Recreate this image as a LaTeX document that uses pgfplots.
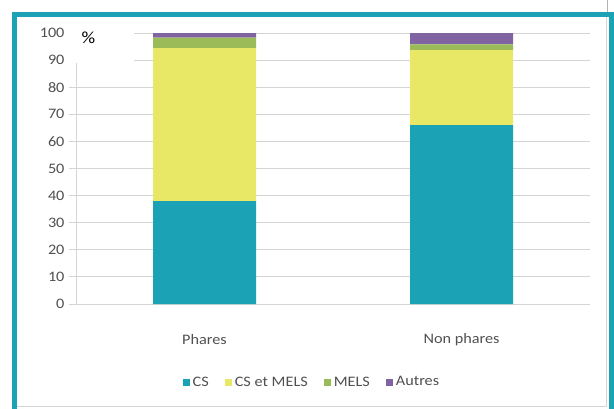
\documentclass[border=0pt]{standalone}
\usepackage{fontspec}
\setmainfont{Carlito}[FakeStretch=1.12]
\usepackage{pgfplots}
\pgfplotsset{compat=1.18}
\definecolor{csteal}{HTML}{1BA3B5}
\definecolor{csmels}{HTML}{E8E866}
\definecolor{mels}{HTML}{9BBB59}
\definecolor{autres}{HTML}{8064A2}
\definecolor{gridgray}{HTML}{D4D4D4}
\definecolor{txtgray}{HTML}{505050}

\begin{document}
\begin{tikzpicture}
\useasboundingbox (0pt,0pt) rectangle (614pt,408pt);
% outer frame
\draw[gridgray, line width=1pt] (17pt,2pt) -- (606pt,2pt) -- (606pt,391pt);
\draw[gray!60, line width=0.8pt] (607pt,408pt) -- (607pt,394pt);
\draw[csteal, line width=5pt] (14.5pt,-5pt) -- (14.5pt,393.5pt) -- (611.5pt,393.5pt) -- (611.5pt,-5pt);

\begin{axis}[
  at={(76pt,104pt)}, anchor=south west,
  scale only axis, width=514pt, height=271pt,
  ybar stacked, bar width=103pt,
  xmin=-0.5, xmax=1.5, ymin=0, ymax=100,
  xtick={0,1}, xticklabels={Phares, Non phares},
  xtick style={draw=none},
  extra x ticks={-0.5,0.5,1.5}, extra x tick labels={},
  extra x tick style={tick align=outside, major tick length=5pt,
    tick style={draw=gridgray, line width=1pt}, grid=none},
  ytick={0,10,...,100},
  tick align=outside, major tick length=7pt,
  ytick style={draw=gridgray, line width=1pt},
  ymajorgrids, grid style={gridgray, line width=1pt},
  axis x line*=bottom, axis y line*=left,
  axis line style={gridgray, line width=1pt},
  /pgf/number format/assume math mode=true,
  ticklabel style={font=\fontsize{14.5}{16}\selectfont, text=txtgray},
  yticklabel style={xshift=-1pt},
  xticklabel style={anchor=center, yshift=-29pt},
  legend style={at={(0.459,-0.288)}, anchor=center, draw=none,
    font=\fontsize{14.5}{16}\selectfont, text=txtgray,
    /tikz/every odd column/.append style={column sep=1pt},
    /tikz/every even column/.append style={column sep=14pt}},
  legend columns=4,
  legend image code/.code={\fill[#1] (0pt,-3.5pt) rectangle (7pt,3.5pt);},
]
\addplot[fill=csteal, draw=none] coordinates {(0,38.0) (1,66.0)};
\addplot[fill=csmels, draw=none] coordinates {(0,56.4) (1,27.7)};
\addplot[fill=mels, draw=none] coordinates {(0,3.9) (1,2.1)};
\addplot[fill=autres, draw=none] coordinates {(0,1.7) (1,4.2)};
\legend{CS, CS et MELS, MELS, Autres}
\end{axis}

% white patch behind the unit label
\fill[white] (64pt,345pt) rectangle (134pt,390pt);
\node[font=\fontsize{17}{19}\selectfont] at (88.5pt,370pt) {\%};
\end{tikzpicture}
\end{document}
